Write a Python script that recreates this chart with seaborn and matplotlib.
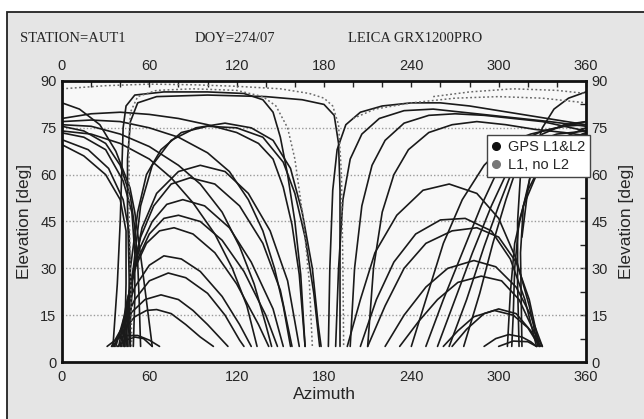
import matplotlib
matplotlib.use("Agg")
import matplotlib.pyplot as plt
import seaborn as sns
import pandas as pd
from matplotlib.lines import Line2D
from matplotlib.patches import Rectangle
from matplotlib.ticker import MultipleLocator

# ---------------- header / labels ----------------
header_left = "STATION=AUT1"
header_mid = "DOY=274/07"
header_right = "LEICA GRX1200PRO"
x_label = "Azimuth"
y_label = "Elevation [deg]"
legend_labels = ["GPS L1&L2", "L1, no L2"]
x_ticks = [0, 60, 120, 180, 240, 300, 360]
y_ticks = [0, 15, 30, 45, 60, 75, 90]

# ---------------- satellite tracks (azimuth, elevation) ----------------
left_arches = [
    [(31, 5), (38, 7.5), (45, 8.5), (52, 8.5), (60, 7), (67, 5)],
    [(38, 5), (44, 7), (50, 8), (56, 7.5), (62, 5)],
    [(35, 5), (42, 10), (50, 14.5), (58, 16.5), (65, 16.8), (75, 15.5), (85, 12), (95, 8), (104, 5)],
    [(34, 5), (40, 10), (48, 16), (57, 20), (68, 21.5), (80, 20), (90, 16.5), (100, 12), (110, 7), (114, 5)],
    [(36, 5), (42, 12), (50, 20), (60, 26), (73, 28.5), (85, 27), (100, 22), (112, 15), (122, 7), (125, 5)],
    [(37, 5), (43, 15), (50, 24), (60, 31), (70, 34), (82, 33), (95, 29), (110, 21), (122, 12), (130, 5)],
    [(39, 5), (44, 18), (50, 30), (58, 38), (67, 42), (77, 43), (90, 41), (105, 35), (120, 25), (135, 12), (142, 5)],
    [(40, 5), (45, 20), (52, 33), (60, 41), (70, 46), (80, 47), (95, 45), (110, 39), (125, 29), (140, 15), (148, 5)],
    [(41, 5), (46, 22), (53, 36), (62, 45), (72, 50.5), (83, 52), (98, 50), (115, 43), (130, 32), (145, 17), (152, 5)],
    [(42, 5), (47, 25), (54, 40), (63, 50), (75, 57), (88, 59), (105, 57), (122, 50), (138, 38), (150, 23), (158, 5)],
    [(43, 5), (48, 27), (55, 43), (65, 54), (80, 61), (95, 63), (112, 61), (128, 54), (143, 42), (155, 26), (163, 5)],
    [(44, 5), (47, 30), (52, 48), (58, 60), (68, 68), (82, 73.5), (100, 75.5), (120, 75), (138, 72), (152, 64),
     (160, 54), (167, 40), (173, 22), (177, 5)],
    [(46, 5), (49, 30), (54, 50), (62, 63), (75, 71), (92, 75), (112, 76.5), (130, 75), (145, 71), (157, 62),
     (165, 48), (172, 30), (176, 12), (178, 5)],
]

north_steep = [
    [(0, 83), (12, 81), (26, 76), (37, 67.5), (46.7, 55.8), (50, 48), (53, 37.6), (56, 27), (59, 16), (62, 5)],
    [(0, 75.5), (15, 74), (30, 70), (40, 63), (47, 53), (50, 43), (52, 32), (53, 20), (54, 5)],
    [(0, 73.4), (15, 72), (30, 68), (42, 58), (48, 48), (50, 35), (50, 20), (49, 5)],
    [(0, 71.2), (18, 68), (32, 62), (42, 52), (46, 42), (47, 28), (46, 15), (45, 5)],
    [(0, 69.6), (15, 66), (30, 60), (40, 52), (44, 42), (44, 25), (43, 5)],
]

north_east = [
    [(0, 78), (20, 79.5), (40, 80), (60, 79.3), (80, 78), (100, 76), (120, 73.5), (135, 70), (145, 65),
     (152, 56), (158, 44), (163, 28), (167, 5)],
    [(0, 77), (20, 77.5), (40, 77), (60, 75), (80, 72), (100, 67), (115, 61), (128, 52), (138, 42),
     (146, 30), (152, 18), (157, 5)],
    [(0, 76), (20, 75.5), (40, 73), (60, 69), (80, 63), (95, 57), (110, 48), (122, 37), (132, 25),
     (140, 12), (144, 5)],
    [(0, 74), (20, 73), (40, 70), (60, 65), (75, 59), (90, 51), (105, 41), (117, 30), (127, 18), (134, 5)],
]

high_loops = [
    [(35, 5), (38, 25), (40, 45), (41, 60), (42, 75), (44, 82), (50, 85.5), (70, 86.5), (100, 86.5),
     (125, 86), (138, 84), (145, 80), (150, 72), (155, 60), (160, 45), (164, 28), (167, 5)],
    [(47, 5), (46, 30), (45, 50), (45, 65), (47, 77), (52, 83), (65, 85), (100, 85.5), (140, 85),
     (165, 84), (180, 82.5), (187, 79), (190, 70), (191, 55), (191, 5)],
]

right_rising = [
    [(183, 5), (184, 30), (186, 55), (189, 68), (195, 76), (205, 80), (220, 82), (240, 83), (260, 83),
     (280, 82), (300, 80.5), (320, 79), (340, 77.5), (360, 76)],
    [(188, 5), (190, 30), (193, 52), (198, 65), (206, 73), (218, 78), (235, 80.5), (255, 81), (275, 80),
     (295, 79), (315, 78), (335, 77), (360, 75.5)],
    [(198, 5), (201, 30), (206, 50), (213, 63), (222, 71), (235, 76.5), (252, 79), (270, 79.5), (290, 79),
     (310, 78), (330, 77), (360, 74)],
    [(210, 5), (214, 30), (220, 48), (228, 60), (238, 68), (252, 73.5), (268, 76), (285, 77), (305, 76),
     (325, 74.5), (345, 73.5), (360, 72.5)],
    [(240, 5), (250, 20), (262, 38), (275, 52), (290, 63), (305, 70), (322, 73), (340, 75), (360, 77)],
    [(250, 5), (262, 20), (275, 35), (288, 50), (300, 62), (312, 70), (330, 74), (345, 75.5), (360, 76)],
    [(258, 5), (270, 20), (282, 35), (295, 50), (305, 60), (315, 67), (330, 71), (360, 73)],
    [(266, 5), (278, 20), (290, 37), (300, 50), (310, 62), (322, 70), (340, 73), (360, 74)],
    [(276, 5), (287, 22), (296, 38), (305, 52), (313, 63), (322, 70), (338, 72), (360, 72.5)],
    [(316, 40), (320, 55), (324, 66), (330, 75), (338, 81), (348, 84.5), (360, 86.5)],
]

right_arches = [
    [(290, 5), (298, 7.5), (307, 8.8), (316, 8), (322, 6.5), (326, 5)],
    [(300, 5), (310, 6.7), (320, 6.5), (326, 5)],
    [(262, 5), (272, 10), (283, 14.5), (297, 16.5), (310, 15), (320, 11), (328, 5)],
    [(268, 5), (278, 10.5), (290, 15.5), (300, 17), (312, 15.5), (322, 10), (329, 5)],
    [(232, 5), (245, 13), (258, 20), (272, 25.5), (288, 27.5), (302, 26), (314, 20), (324, 10), (330, 5)],
    [(222, 5), (235, 15), (250, 24), (265, 30), (283, 32.5), (298, 30.5), (312, 24), (322, 15), (330, 5)],
    [(210, 5), (222, 18), (235, 30), (250, 38), (268, 42), (285, 43), (300, 40), (312, 32), (321, 20), (328, 5)],
    [(205, 5), (216, 20), (228, 32), (243, 41), (260, 45.5), (277, 46), (295, 42), (308, 33), (318, 20), (326, 5)],
    [(196, 5), (205, 20), (215, 35), (230, 47), (248, 55), (266, 57), (285, 54), (300, 46), (312, 33),
     (321, 18), (327, 5)],
]

north_west = [
    [(360, 77), (345, 76), (330, 73), (320, 68), (315, 60), (313, 45), (313, 25), (314, 5)],
    [(360, 75), (345, 72), (332, 67), (322, 60), (317, 50), (315, 35), (316, 5)],
    [(360, 73.5), (342, 70), (330, 64), (320, 55), (314, 45), (311, 30), (310, 15), (309, 5)],
    [(360, 72), (340, 68), (326, 60), (317, 50), (311, 38), (308, 22), (306, 5)],
]

l1_only = [
    [(0, 87.5), (30, 88.5), (60, 89), (90, 88.8), (120, 88.3), (150, 87.5), (170, 86), (180, 84.5),
     (186, 82), (190, 76), (192, 60), (193, 30), (193.5, 5)],
    [(48, 5), (47, 30), (46, 50), (46, 70), (47, 80), (52, 85), (65, 87), (90, 87.5), (120, 87), (138, 85),
     (147, 82), (155, 75), (160, 65), (166, 45), (170, 25), (172, 5)],
    [(200, 78), (215, 81), (240, 83), (270, 84.5), (300, 85), (330, 84.5), (360, 83)],
    [(255, 85), (280, 86.5), (310, 87.5), (340, 87), (360, 86)],
]

# ---------------- long-form table ----------------
rows = []
groups = [left_arches, north_steep, north_east, high_loops, right_rising, right_arches, north_west]
tid = 0
for grp in groups:
    for trk in grp:
        for a, e in trk:
            rows.append({"track": tid, "az": a, "el": e, "kind": legend_labels[0]})
        tid += 1
for trk in l1_only:
    for a, e in trk:
        rows.append({"track": tid, "az": a, "el": e, "kind": legend_labels[1]})
    tid += 1
df = pd.DataFrame(rows)

# ---------------- figure ----------------
sns.set_theme(style="white")
plt.rcParams["font.family"] = ["Liberation Sans", "DejaVu Sans"]

W, H = 644, 419
fig = plt.figure(figsize=(W / 100, H / 100), dpi=100)
fig.patch.set_facecolor("white")
panel = Rectangle((7 / W, -0.05), 1.0, 1 - 12 / H + 0.05, transform=fig.transFigure,
                  facecolor="#e5e5e5", edgecolor="#222222", lw=1.3, zorder=-10)
fig.add_artist(panel)

ax = fig.add_axes([62 / W, 1 - 362 / H, 524 / W, 281 / H])
ax.set_zorder(1)
ax.set_facecolor("#f8f8f8")

for yv in [15, 30, 45, 60, 75]:
    ax.axhline(yv, color="#9a9a9a", lw=1.0, ls=(0, (1, 1.5)), zorder=1)

sns.lineplot(data=df[df.kind == legend_labels[0]], x="az", y="el", units="track", estimator=None,
             sort=False, color="#1a1a1a", lw=1.2, ax=ax, legend=False)
sns.lineplot(data=df[df.kind == legend_labels[1]], x="az", y="el", units="track", estimator=None,
             sort=False, color="#6a6a6a", lw=1.1, ls=(0, (1.2, 1.6)), ax=ax, legend=False)

ax.set_xlim(0, 360)
ax.set_ylim(0, 90)
ax.set_xticks(x_ticks)
ax.set_yticks(y_ticks)
ax.xaxis.set_minor_locator(MultipleLocator(20))
ax.yaxis.set_minor_locator(MultipleLocator(7.5))
tickfont = ["Liberation Sans Narrow", "Liberation Sans", "DejaVu Sans"]
ax.tick_params(axis="both", which="both", direction="in", top=True, right=True,
               labeltop=True, labelright=True, length=4, width=1.0, color="#222222",
               labelsize=10.5, pad=4)
ax.tick_params(axis="x", which="major", pad=6)
for lab in ax.get_xticklabels() + ax.get_yticklabels():
    lab.set_family(tickfont)
for sp in ax.spines.values():
    sp.set_color("#111111")
    sp.set_linewidth(2.0)

ax.set_xlabel(x_label, fontsize=12.5, labelpad=2)
ax.set_ylabel(y_label, fontsize=12.5, labelpad=6)
sec = ax.secondary_yaxis("right")
sec.set_yticks([])
sec.spines["right"].set_visible(False)
sec.set_ylabel(y_label, fontsize=12.5, labelpad=24)

serif = ["Liberation Serif", "DejaVu Serif"]
fy = 1 - 38 / H
fig.text(20 / W, fy, header_left, family=serif, fontsize=10.5, va="center", ha="left")
fig.text(195 / W, fy, header_mid, family=serif, fontsize=10.5, va="center", ha="left")
fig.text(348 / W, fy, header_right, family=serif, fontsize=10.5, va="center", ha="left")

handles = [Line2D([], [], ls="none", marker="o", ms=5.5, color="#111111"),
           Line2D([], [], ls="none", marker="o", ms=5.5, color="#777777")]
leg = ax.legend(handles, legend_labels, loc="upper left", bbox_to_anchor=(0.811, 0.808),
                frameon=True, fancybox=False, framealpha=1, edgecolor="#444444", fontsize=10.5,
                handlelength=0.6, handletextpad=0.5, borderpad=0.35, labelspacing=0.25,
                borderaxespad=0)
leg.get_frame().set_linewidth(1.0)
leg.set_zorder(10)

fig.savefig("out.png", dpi=100)
